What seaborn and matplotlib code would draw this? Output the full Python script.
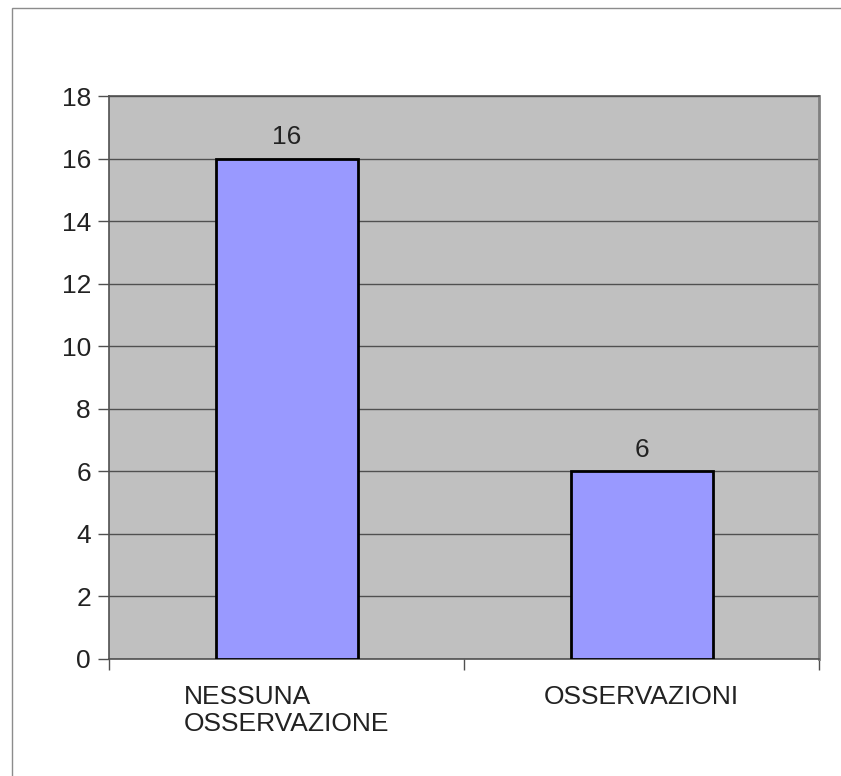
import matplotlib
matplotlib.use("Agg")
import matplotlib.pyplot as plt
from matplotlib.patches import Rectangle
import seaborn as sns

categories = ["NESSUNA\nOSSERVAZIONE", "OSSERVAZIONI"]
values = [16, 6]
y_ticks = [0, 2, 4, 6, 8, 10, 12, 14, 16, 18]

sns.set_theme(style="white")
plt.rcParams["font.family"] = ["Liberation Sans", "DejaVu Sans"]
FS = 19

fig = plt.figure(figsize=(8.41, 7.76), dpi=100)
ax = fig.add_axes([109 / 841, 1 - 659 / 776, 710 / 841, 563 / 776])
ax.set_facecolor("#C0C0C0")

sns.barplot(x=categories, y=values, color="#9999FF", edgecolor="black",
            linewidth=2, width=0.4, saturation=1, ax=ax, zorder=3)
ax.bar_label(ax.containers[0], padding=7, fontsize=FS, color="#222222")

ax.set_xlim(-0.5, 1.5)
ax.set_ylim(0, 18)
ax.set_yticks(y_ticks)
ax.set_xticks([-0.5, 0.5, 1.5], minor=True)
ax.grid(axis="y", color="#505050", linewidth=1, zorder=0)
ax.set_axisbelow(True)

ax.tick_params(axis="y", which="major", length=8, width=1, color="#505050",
               labelsize=FS, labelcolor="#222222", pad=5, left=True)
ax.tick_params(axis="x", which="major", length=0, labelsize=FS,
               labelcolor="#222222", pad=19)
ax.tick_params(axis="x", which="minor", length=8, width=1, color="#505050",
               bottom=True, direction="out")
for lab in ax.get_xticklabels():
    lab.set_multialignment("left")
    lab.set_linespacing(1.15)

for side in ["left", "bottom", "top"]:
    ax.spines[side].set_color("#505050")
    ax.spines[side].set_linewidth(1.2)
ax.spines["right"].set_color("#808080")
ax.spines["right"].set_linewidth(2)
ax.set_xlabel("")
ax.set_ylabel("")

# outer chart frame
fig.patches.append(Rectangle((12 / 841, -0.1), 1.2, 1 - 8 / 776 + 0.1,
                             transform=fig.transFigure, fill=False,
                             edgecolor="#8c8c8c", linewidth=1))

fig.savefig("out.png", dpi=100)
